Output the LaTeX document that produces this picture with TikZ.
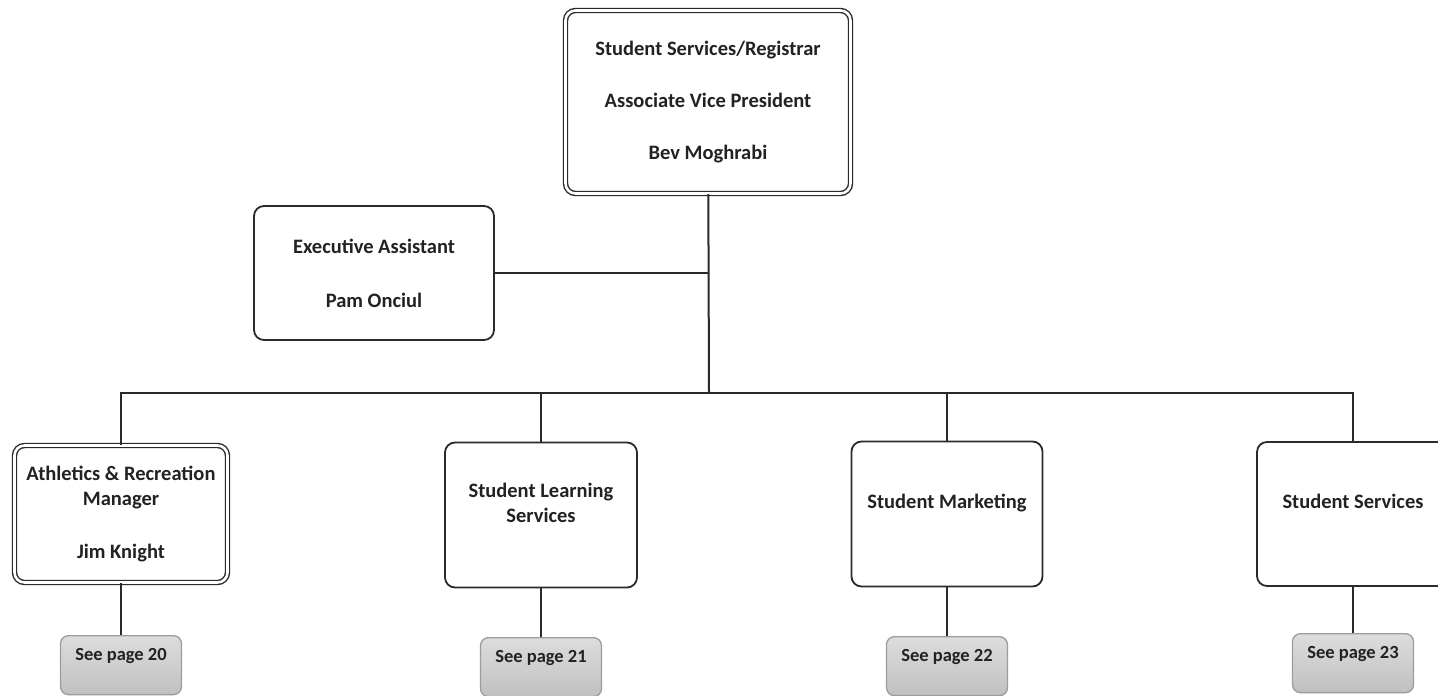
\documentclass[tikz,border=0pt]{standalone}
\usepackage{fontspec}
\setmainfont{Carlito}
\usepackage{tikz}

\definecolor{boxline}{HTML}{2A2A2A}
\definecolor{boxtext}{HTML}{222222}
\definecolor{pagetop}{HTML}{DDDDDD}
\definecolor{pagebot}{HTML}{C0C0C0}
\definecolor{pageline}{HTML}{9C9C9C}

\begin{document}
\begin{tikzpicture}[x=1pt, y=-1pt, line width=2pt, draw=boxline]
  \useasboundingbox (0,0) rectangle (1438,696);
  \clip (0,0) rectangle (1438,696);
      \tikzstyle{unit} = [draw=boxline, line width=1.8pt, rounded corners=10pt, fill=white, align=center, text=boxtext, font=\fontsize{20.5}{25}\selectfont\bfseries, minimum height=142pt]
      \tikzstyle{head} = [unit, double=white, double distance=2.6pt, line width=1.4pt]
      \tikzstyle{seepage} = [draw=pageline, line width=1.3pt, rounded corners=8pt, top color=pagetop, bottom color=pagebot, anchor=north, minimum width=121pt, inner ysep=4pt, text height=21pt, text depth=30pt, text=boxtext, font=\fontsize{18.5}{20}\selectfont\bfseries]

      % top of the chart
      \node (avp) at (708,102) [head, minimum width=285pt, minimum height=183pt, font=\fontsize{20.5}{52}\selectfont\bfseries] {Student Services/Registrar\\Associate Vice President\\Bev Moghrabi};
      \node (exec) at (374,273) [unit, minimum width=240pt, minimum height=134pt, font=\fontsize{20.5}{54}\selectfont\bfseries] {Executive Assistant\\Pam Onciul};

      % departments
      \node (athletics) at (121,514) [head, minimum width=213pt, minimum height=137pt] {Athletics \& Recreation\\Manager\\[28pt]Jim Knight};
      \node (learning) at (541,515) [unit, minimum width=192pt, minimum height=145pt] {Student Learning\\Services\\~};
      \node (marketing) at (947,514) [unit, minimum width=191pt, minimum height=145pt] {Student Marketing\\~};
      \node (services) at (1353,514) [unit, minimum width=192pt, minimum height=144pt] {Student Services\\~};

      % page references
      \node (page20) at (121,635) [seepage] {See page 20};
      \node (page21) at (541,637) [seepage] {See page 21};
      \node (page22) at (947,636) [seepage] {See page 22};
      \node (page23) at (1353,633) [seepage] {See page 23};

      \coordinate (bus) at (709,393);
      \draw (avp) -- (bus);
      \draw (exec.east) -- (exec.east -| bus);
      \draw (athletics.north) -- (athletics.north |- bus) -- (services.north |- bus) -- (services.north);
      \draw (learning.north) -- (learning.north |- bus);
      \draw (marketing.north) -- (marketing.north |- bus);
      \draw (athletics) -- (page20);
      \draw (learning) -- (page21);
      \draw (marketing) -- (page22);
      \draw (services) -- (page23);
\end{tikzpicture}
\end{document}
